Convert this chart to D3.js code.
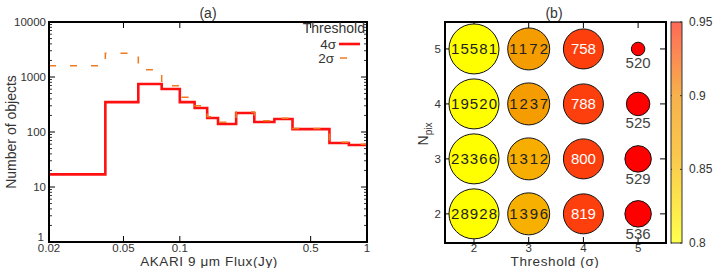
<!DOCTYPE html>
<html>
<head>
<meta charset="utf-8">
<script src="https://cdn.jsdelivr.net/npm/d3@7"></script>
<style>
  body { margin: 0; background: #fff; }
  svg { display: block; font-family: "Liberation Sans", Arial, sans-serif; }
</style>
</head>
<body>
<script>
// ---- panel (a) data: histogram of AKARI 9um flux ----
const binEdges = [0.02, 0.04, 0.06, 0.08, 0.1, 0.12, 0.14, 0.16, 0.2, 0.25, 0.32, 0.4, 0.63, 0.8, 1.0];
const counts4sigma = [17, 350, 745, 605, 350, 273, 180, 140, 222, 152, 172, 113, 63, 58];
const counts2sigma = [1600, 2700, 1350, 690, 430, 300, 190, 150, 232, 160, 178, 116, 65, 60];
const xTicksA = [0.02, 0.05, 0.1, 0.5, 1];
const yTicksA = [1, 10, 100, 1000, 10000];

// ---- panel (b) data: bubble grid ----
const thresholds = [2, 3, 4, 5];
const npix = [5, 4, 3, 2];
// counts[row][col], rows follow npix, cols follow thresholds
const cellCounts = [
  [15581, 1172, 758, 520],
  [19520, 1237, 788, 525],
  [23366, 1312, 800, 529],
  [28928, 1396, 819, 536]
];
// colour value (0.8 - 0.95 scale)
const cellColor = [
  [0.78, 0.885, 0.94, 0.97],
  [0.78, 0.885, 0.94, 0.97],
  [0.78, 0.862, 0.94, 0.97],
  [0.78, 0.860, 0.94, 0.97]
];
// relative bubble size
const cellSize = [
  [1.0, 0.84, 0.8, 0.27],
  [1.0, 0.84, 0.8, 0.47],
  [1.0, 0.84, 0.8, 0.53],
  [1.0, 0.84, 0.8, 0.53]
];
const colorTicks = [0.8, 0.85, 0.9, 0.95];

const W = 720, H = 268;
const svg = d3.select("body").append("svg")
  .attr("width", W).attr("height", H);

const tickColor = "#333";
const tickSize = 11.5, labelSize = 14;

// =================== panel (a) ===================
const xA = d3.scaleLog().domain([0.02, 1]).range([49, 367]);
const yA = d3.scaleLog().domain([1, 10000]).range([242, 22]);

const gA = svg.append("g");

// minor y ticks
const minorY = [];
for (let d = 1; d < 10000; d *= 10) for (let k = 2; k <= 9; k++) minorY.push(d * k);
gA.selectAll(".minor").data(minorY).enter().append("g").each(function (v) {
  const g = d3.select(this);
  g.append("line").attr("x1", xA.range()[0]).attr("x2", xA.range()[0] + 3)
    .attr("y1", yA(v)).attr("y2", yA(v)).attr("stroke", "#000").attr("stroke-width", 0.8);
  g.append("line").attr("x1", xA.range()[1]).attr("x2", xA.range()[1] - 3)
    .attr("y1", yA(v)).attr("y2", yA(v)).attr("stroke", "#000").attr("stroke-width", 0.8);
});
// major y ticks
yTicksA.forEach(v => {
  gA.append("line").attr("x1", 49).attr("x2", 55).attr("y1", yA(v)).attr("y2", yA(v))
    .attr("stroke", "#000");
  gA.append("line").attr("x1", 367).attr("x2", 361).attr("y1", yA(v)).attr("y2", yA(v))
    .attr("stroke", "#000");
  gA.append("text").attr("x", v === 1 ? 44 : 46).attr("y", v === 1 ? yA(v) - 1 : yA(v) + 4)
    .attr("text-anchor", "end")
    .attr("font-size", tickSize).attr("fill", tickColor).text(v);
});
// x ticks
xTicksA.forEach(v => {
  gA.append("line").attr("x1", xA(v)).attr("x2", xA(v)).attr("y1", 242).attr("y2", 236)
    .attr("stroke", "#000");
  gA.append("line").attr("x1", xA(v)).attr("x2", xA(v)).attr("y1", 22).attr("y2", 28)
    .attr("stroke", "#000");
  gA.append("text").attr("x", xA(v)).attr("y", 252).attr("text-anchor", "middle")
    .attr("font-size", tickSize).attr("fill", tickColor).text(v);
});

// step path builder
function stepPoints(edges, vals) {
  const pts = [];
  vals.forEach((v, i) => {
    pts.push([edges[i], v]);
    pts.push([edges[i + 1], v]);
  });
  return pts;
}
const stepLine = d3.line().x(d => xA(d[0])).y(d => yA(d[1]));

gA.append("path").datum(stepPoints(binEdges, counts4sigma))
  .attr("d", stepLine).attr("fill", "none")
  .attr("stroke", "#ff1010").attr("stroke-width", 2.6);
gA.append("path").datum(stepPoints(binEdges, counts2sigma))
  .attr("d", stepLine).attr("fill", "none")
  .attr("stroke", "#f07a20").attr("stroke-width", 1.5)
  .attr("stroke-dasharray", "7,14");

// frame
gA.append("rect").attr("x", 49).attr("y", 22).attr("width", 318).attr("height", 220)
  .attr("fill", "none").attr("stroke", "#000").attr("stroke-width", 2);

// legend
gA.append("text").attr("x", 365).attr("y", 33).attr("text-anchor", "end")
  .attr("font-size", labelSize).attr("fill", tickColor).text("Threshold");
gA.append("text").attr("x", 336).attr("y", 49).attr("text-anchor", "end")
  .attr("font-size", 13.5).attr("fill", tickColor).text("4σ");
gA.append("line").attr("x1", 339).attr("x2", 360).attr("y1", 44).attr("y2", 44)
  .attr("stroke", "#ff1010").attr("stroke-width", 2.6);
gA.append("text").attr("x", 334).attr("y", 63).attr("text-anchor", "end")
  .attr("font-size", 13.5).attr("fill", tickColor).text("2σ");
gA.append("line").attr("x1", 340).attr("x2", 360).attr("y1", 58).attr("y2", 58)
  .attr("stroke", "#f07a20").attr("stroke-width", 1.5).attr("stroke-dasharray", "7,14");

// titles and labels
gA.append("text").attr("x", 208).attr("y", 18).attr("text-anchor", "middle")
  .attr("font-size", labelSize).attr("fill", tickColor).text("(a)");
gA.append("text").attr("x", 209).attr("y", 266).attr("text-anchor", "middle")
  .attr("font-size", 13.5).attr("letter-spacing", 0.6).attr("fill", tickColor)
  .text("AKARI 9 μm Flux(Jy)");
gA.append("text").attr("transform", "translate(16,132) rotate(-90)")
  .attr("text-anchor", "middle").attr("font-size", labelSize).attr("fill", tickColor)
  .text("Number of objects");

// =================== panel (b) ===================
const xB = d3.scaleLinear().domain([1.47, 5.51]).range([445, 666]);
const yB = d3.scaleLinear().domain([1.47, 5.49]).range([243, 22]);
const rScale = d3.scaleLinear().domain([0, 1]).range([0, 25]);
const colorScale = d3.scaleLinear()
  .domain([0.8, 0.86, 0.9, 0.95])
  .range(["#ffff00", "#f8b000", "#f39000", "#ff2a10"])
  .clamp(true);
const cellFill = v => v >= 0.95 ? "#ff0000" : colorScale(v);

const gB = svg.append("g");

// ticks
thresholds.forEach(t => {
  gB.append("line").attr("x1", xB(t)).attr("x2", xB(t)).attr("y1", 243).attr("y2", 237)
    .attr("stroke", "#000");
  gB.append("line").attr("x1", xB(t)).attr("x2", xB(t)).attr("y1", 22).attr("y2", 28)
    .attr("stroke", "#000");
  gB.append("text").attr("x", xB(t)).attr("y", 252).attr("text-anchor", "middle")
    .attr("font-size", tickSize).attr("fill", tickColor).text(t);
});
npix.forEach(n => {
  gB.append("line").attr("x1", 445).attr("x2", 451).attr("y1", yB(n)).attr("y2", yB(n))
    .attr("stroke", "#000");
  gB.append("line").attr("x1", 666).attr("x2", 660).attr("y1", yB(n)).attr("y2", yB(n))
    .attr("stroke", "#000");
  gB.append("text").attr("x", 441).attr("y", yB(n) + 4).attr("text-anchor", "end")
    .attr("font-size", tickSize).attr("fill", tickColor).text(n);
});

// bubbles
const cells = [];
npix.forEach((n, ri) => thresholds.forEach((t, ci) => {
  cells.push({ n, t, count: cellCounts[ri][ci], c: cellColor[ri][ci], s: cellSize[ri][ci] });
}));

gB.selectAll(".cell").data(cells).enter().append("circle")
  .attr("class", "cell")
  .attr("cx", d => xB(d.t)).attr("cy", d => yB(d.n))
  .attr("r", d => rScale(d.s))
  .attr("fill", d => cellFill(d.c))
  .attr("stroke", "#111").attr("stroke-width", 1);

gB.selectAll(".clab").data(cells).enter().append("text")
  .attr("class", "clab")
  .attr("x", d => xB(d.t))
  .attr("y", d => d.t === 5 ? yB(d.n) + rScale(d.s) + 12 : yB(d.n) + 5)
  .attr("text-anchor", "middle")
  .attr("font-size", 15)
  .attr("textLength", d => d.t === 2 ? 46 : (d.t === 3 ? 39 : null))
  .attr("fill", d => d.t === 4 ? "#fff" : (d.t === 5 ? "#444" : "#222"))
  .text(d => d.count);

// frame
gB.append("rect").attr("x", 445).attr("y", 22).attr("width", 221).attr("height", 221)
  .attr("fill", "none").attr("stroke", "#000").attr("stroke-width", 2);

// colour bar
const yC = d3.scaleLinear().domain([0.8, 0.95]).range([243, 22]);
const defs = svg.append("defs");
const grad = defs.append("linearGradient").attr("id", "cbar")
  .attr("x1", 0).attr("y1", 1).attr("x2", 0).attr("y2", 0);
d3.range(0.8, 0.9501, 0.01).forEach(v => {
  grad.append("stop").attr("offset", (v - 0.8) / 0.15).attr("stop-color", colorScale(v));
});
gB.append("rect").attr("x", 671).attr("y", 22).attr("width", 11).attr("height", 221)
  .attr("fill", "url(#cbar)").attr("opacity", 0.7);
gB.append("rect").attr("x", 671).attr("y", 22).attr("width", 11).attr("height", 221)
  .attr("fill", "none").attr("stroke", "#333").attr("stroke-width", 1);
colorTicks.forEach(v => {
  gB.append("line").attr("x1", 671).attr("x2", 673).attr("y1", yC(v)).attr("y2", yC(v))
    .attr("stroke", "#333").attr("stroke-dasharray", "1,1");
  gB.append("line").attr("x1", 680).attr("x2", 682).attr("y1", yC(v)).attr("y2", yC(v))
    .attr("stroke", "#333");
  gB.append("text").attr("x", 689).attr("y", yC(v) + 4).attr("font-size", 12)
    .attr("fill", tickColor).text(v);
});

// titles and labels
gB.append("text").attr("x", 554).attr("y", 18).attr("text-anchor", "middle")
  .attr("font-size", labelSize).attr("fill", tickColor).text("(b)");
gB.append("text").attr("x", 555).attr("y", 266).attr("text-anchor", "middle")
  .attr("font-size", 13.5).attr("letter-spacing", 0.6).attr("fill", tickColor)
  .text("Threshold (σ)");
const nl = gB.append("text").attr("transform", "translate(428,134) rotate(-90)")
  .attr("text-anchor", "middle").attr("font-size", labelSize).attr("fill", tickColor);
nl.append("tspan").text("N");
nl.append("tspan").attr("font-size", 10).attr("dy", 4).text("pix");
</script>
</body>
</html>
